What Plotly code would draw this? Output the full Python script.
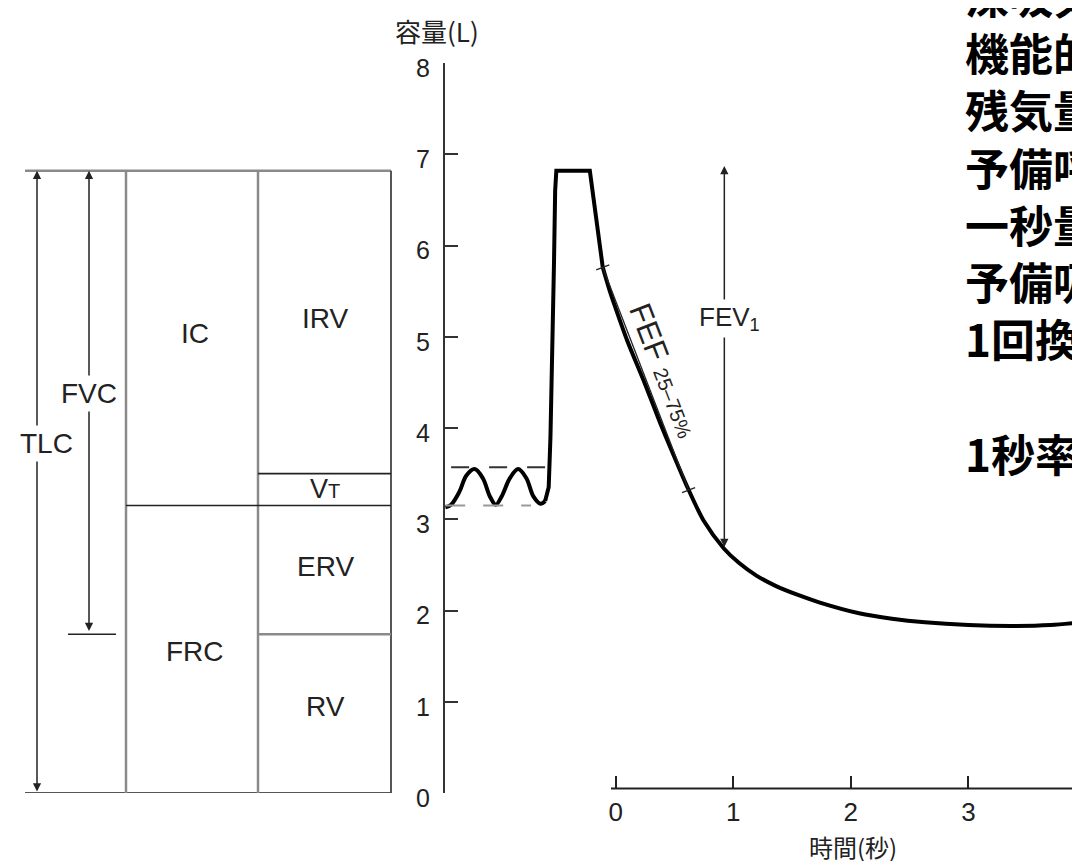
import plotly.graph_objects as go

# ---------------- data ----------------
# spirogram: tidal breathing (time in s, volume in L)
tidal_t = [-1.449, -1.40, -1.33, -1.27, -1.20, -1.13, -1.07, -1.02, -0.97, -0.90,
           -0.83, -0.76, -0.70, -0.64, -0.60]
tidal_v = [3.13, 3.16, 3.30, 3.48, 3.55, 3.45, 3.25, 3.16, 3.25, 3.45,
           3.55, 3.45, 3.25, 3.17, 3.20]
# maximal inspiration, plateau and start of forced expiration
manoeuvre_t = [-0.60, -0.57, -0.555, -0.54, -0.525, -0.515, -0.505, -0.22, -0.11]
manoeuvre_v = [3.20, 3.35, 3.90, 4.70, 5.80, 6.60, 6.82, 6.82, 5.76]
# forced expiration
expire_t = [-0.11, -0.05, 0.00, 0.10, 0.25, 0.38, 0.50, 0.60, 0.75, 0.92, 1.05,
            1.20, 1.36, 1.55, 1.73, 2.07, 2.35, 2.63, 3.00, 3.38, 3.70, 3.97]
expire_v = [5.76, 5.50, 5.31, 4.95, 4.48, 4.05, 3.68, 3.38, 2.98, 2.68, 2.52,
            2.38, 2.27, 2.17, 2.09, 1.97, 1.91, 1.87, 1.84, 1.83, 1.84, 1.87]
tidal_top = 3.57
tidal_bottom = 3.15
tidal_line_t = [-1.40, -0.60]
tidal_low_t = [-1.45, -0.72]

# lung volumes (L)
TLC = 6.82
VT_TOP = 3.50
FRC = 3.15
RV = 1.74
FEV1_TIME = 0.924
FEV1_LOW = 2.68
FEF_T = [-0.11, 0.62]
FEF_V = [5.76, 3.32]

y_ticks = [0, 1, 2, 3, 4, 5, 6, 7, 8]
x_ticks = [0, 1, 2, 3, 4]

jp_terms = ["深吸気量", "機能的残気量", "残気量", "予備呼気量", "一秒量", "予備吸気量", "1回換気量",
            "", "1秒率"]

# ---------------- layout constants (pixels) ----------------
W, H = 1080, 861
Y0_PX, PX_PER_L = 785.0, 91.25          # y=0 L pixel row, px per litre
T0_PX, PX_PER_S = 607.7, 117.57         # t=0 s pixel column, px per second
TOP_M = Y0_PX - 8 * PX_PER_L
BOT_M = H - Y0_PX
AXIS_X_PX = 436
TIME_AXIS_L = 0.05                      # time axis sits slightly above 0 L

def ty(py):          # pixel row -> paper y
    return (Y0_PX - py) / (8 * PX_PER_L)

def tx(t):           # seconds -> pixel column
    return T0_PX + t * PX_PER_S

def xt(px):          # pixel column -> seconds
    return (px - T0_PX) / PX_PER_S

FONT = "Liberation Sans, Arial, sans-serif"
JP = "Noto Sans CJK JP, sans-serif"
TXT = "#222222"
GRAY = "#8a8a8a"

fig = go.Figure()

line_kw = dict(color="black", width=4)
fig.add_trace(go.Scatter(x=tidal_t, y=tidal_v, mode="lines",
                         line=dict(shape="spline", smoothing=1.0, **line_kw), hoverinfo="skip"))
fig.add_trace(go.Scatter(x=manoeuvre_t, y=manoeuvre_v, mode="lines",
                         line=dict(shape="linear", **line_kw), hoverinfo="skip"))
fig.add_trace(go.Scatter(x=expire_t, y=expire_v, mode="lines",
                         line=dict(shape="spline", smoothing=0.8, **line_kw), hoverinfo="skip"))
# tidal dashed guides
fig.add_trace(go.Scatter(x=tidal_line_t, y=[tidal_top] * 2, mode="lines",
                         line=dict(color="#333333", width=2, dash="18px,20px"), hoverinfo="skip"))
fig.add_trace(go.Scatter(x=tidal_low_t, y=[tidal_bottom] * 2, mode="lines",
                         line=dict(color="#999999", width=2, dash="20px,18px"), hoverinfo="skip"))
# FEF 25-75 chord
fig.add_trace(go.Scatter(x=FEF_T, y=FEF_V, mode="lines",
                         line=dict(color="#222222", width=1.3), hoverinfo="skip"))

shapes = []
def seg(x0, y0, x1, y1, color, width):   # x in pixel columns, y in litres
    shapes.append(dict(type="line", xref="x", yref="y", x0=xt(x0), y0=y0, x1=xt(x1), y1=y1,
                       line=dict(color=color, width=width), layer="above"))

# schematic boxes
COL0, COL1, COL2, COL3 = 17, 118, 250, 383
seg(COL0, TLC, COL3, TLC, GRAY, 2.5)
seg(COL0, 0, COL3, 0, "#555555", 2)
seg(COL1, 0, COL1, TLC, GRAY, 2.5)
seg(COL2, 0, COL2, TLC, GRAY, 2.5)
seg(COL3, 0, COL3, TLC, "#444444", 1.8)
seg(COL1, FRC, COL2, FRC, "#222222", 1.6)
seg(COL2, FRC, COL3, FRC, "#222222", 1.6)
seg(COL2, VT_TOP, COL3, VT_TOP, "#222222", 1.6)
seg(COL2, RV, COL3, RV, GRAY, 2.5)
seg(60, RV, 108, RV, "#222222", 1.6)      # FVC bottom bar

# FEF tick marks perpendicular to chord
p = [(tx(t), v) for t, v in zip(FEF_T, FEF_V)]
dxp = p[1][0] - p[0][0]
dyp = (p[0][1] - p[1][1]) * PX_PER_L
ln = (dxp ** 2 + dyp ** 2) ** 0.5
ux, uy = dyp / ln, -dxp / ln
for (xp, v) in p:
    seg(xp - 7 * ux, v + 7 * uy / PX_PER_L, xp + 7 * ux, v - 7 * uy / PX_PER_L, "#222222", 1.3)

# time axis baseline (from just left of 0 to 4 s)
shapes.append(dict(type="line", xref="x", yref="y", x0=-0.04, x1=4.0,
                   y0=TIME_AXIS_L, y1=TIME_AXIS_L,
                   line=dict(color="#222222", width=2), layer="above"))

annotations = []
def arrow(x, y0, y1):
    annotations.append(dict(x=x, y=y1, ax=x, ay=y0, xref="x", yref="y", axref="x", ayref="y",
                            text="", showarrow=True, arrowhead=2, arrowsize=1.1, arrowwidth=1.5,
                            arrowside="end+start", arrowcolor="#222222", standoff=0, startstandoff=0))

arrow(xt(29), 0, TLC)
arrow(xt(81), RV + 0.02, TLC)
arrow(FEV1_TIME, FEV1_LOW, 6.87)

def label(text, px, py, size=28, bg=None, angle=0, family=FONT, color=TXT, weight="normal",
          xanchor="center", yanchor="middle", align="center"):
    d = dict(x=px / W, y=ty(py), xref="paper", yref="paper", text=text, showarrow=False,
             font=dict(family=family, size=size, color=color, weight=weight), textangle=angle,
             xanchor=xanchor, yanchor=yanchor, align=align)
    if bg:
        d.update(bgcolor=bg, borderpad=2)
    annotations.append(d)

label("IC", 187, 325)
label("IRV", 317, 310)
label("V<span style='font-size:20px'>T</span>", 317, 481, size=27)
label("FRC", 187, 643)
label("ERV", 317, 558)
label("RV", 317, 698)
label("FVC", 81, 385, bg="white")
label("TLC", 39, 435, bg="white")
label("FEV<sub>1</sub>", 721, 310, size=26, bg="white")
label("FEF <span style='font-size:20px'>25–75%</span>", 656, 362, size=31, angle=69)
label("容量(L)", 429, 23, size=26, family=JP)
label("時間(秒)", 845, 838, size=24, family=JP)

# right-hand Japanese list (one block, 1.3 em line spacing)
label("<br>".join(jp_terms), 955, 215.5, size=44, family=JP, color="black", weight="bold",
      xanchor="left", align="left")

fig.update_layout(
    width=W, height=H,
    margin=dict(l=0, r=0, t=TOP_M, b=BOT_M, pad=0),
    paper_bgcolor="white", plot_bgcolor="white",
    showlegend=False,
    shapes=shapes, annotations=annotations,
    xaxis=dict(domain=[0, 1], range=[xt(0), xt(W)], anchor="free", position=TIME_AXIS_L / 8,
               showline=False, ticks="inside", ticklen=12, tickwidth=2, tickcolor="#222222",
               tickvals=x_ticks, ticktext=[str(v) for v in x_ticks], ticklabelstandoff=6,
               tickfont=dict(family=FONT, size=26, color=TXT), showgrid=False, zeroline=False,
               fixedrange=True),
    yaxis=dict(domain=[0, 1], range=[0, 8], anchor="free", position=AXIS_X_PX / W,
               showline=True, linecolor="#333333", linewidth=2,
               ticks="inside", ticklen=13, tickwidth=2, tickcolor="#333333",
               tickvals=y_ticks, ticktext=[str(v) for v in y_ticks],
               ticklabelstandoff=8, ticklabelshift=5,
               tickfont=dict(family=FONT, size=25, color=TXT), showgrid=False, zeroline=False,
               fixedrange=True),
)

fig.write_html("out.html")
